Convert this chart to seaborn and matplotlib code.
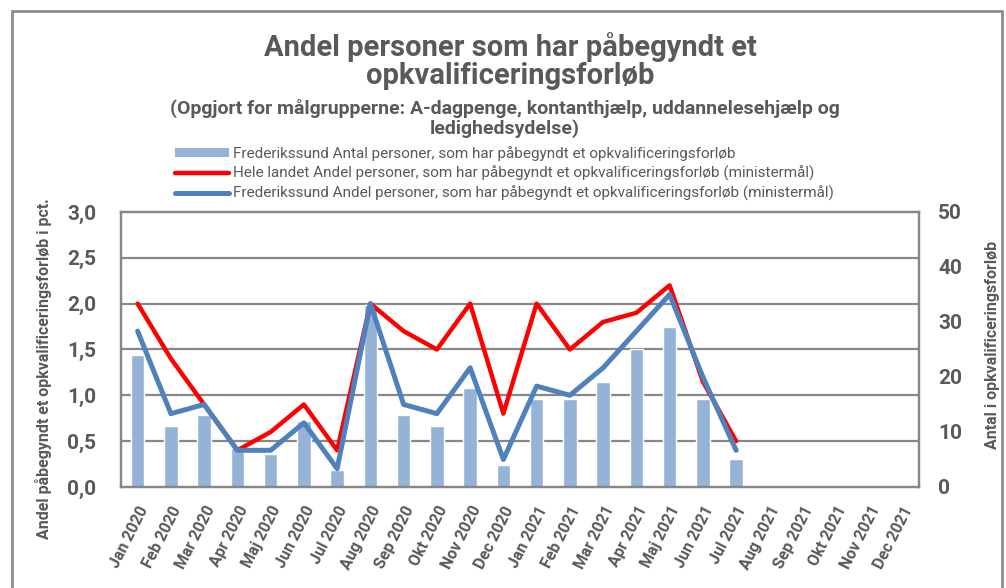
import numpy as np
import pandas as pd
import matplotlib
matplotlib.use("Agg")
import matplotlib.pyplot as plt
import seaborn as sns
from matplotlib.patches import Patch, Rectangle
from matplotlib.lines import Line2D
from matplotlib.ticker import FuncFormatter, MultipleLocator, FixedLocator

# Data
months = ['Jan 2020', 'Feb 2020', 'Mar 2020', 'Apr 2020', 'Maj 2020', 'Jun 2020',
          'Jul 2020', 'Aug 2020', 'Sep 2020', 'Okt 2020', 'Nov 2020', 'Dec 2020',
          'Jan 2021', 'Feb 2021', 'Mar 2021', 'Apr 2021', 'Maj 2021', 'Jun 2021',
          'Jul 2021', 'Aug 2021', 'Sep 2021', 'Okt 2021', 'Nov 2021', 'Dec 2021']
antal_frs = [24, 11, 13, 7, 6, 12, 3, 33, 13, 11, 18, 4, 16, 16, 19, 25, 29, 16, 5]
andel_hele = [2.0, 1.4, 0.9, 0.4, 0.6, 0.9, 0.4, 2.0, 1.7, 1.5, 2.0, 0.8, 2.0, 1.5,
              1.8, 1.9, 2.2, 1.15, 0.5]
andel_frs = [1.7, 0.8, 0.9, 0.4, 0.4, 0.7, 0.2, 2.0, 0.9, 0.8, 1.3, 0.3, 1.1, 1.0,
             1.3, 1.7, 2.1, 1.2, 0.4]

lbl_bar = 'Frederikssund Antal personer, som har påbegyndt et opkvalificeringsforløb'
lbl_red = 'Hele landet Andel personer, som har påbegyndt et opkvalificeringsforløb (ministermål)'
lbl_blue = 'Frederikssund Andel personer, som har påbegyndt et opkvalificeringsforløb (ministermål)'

n = len(antal_frs)
df = pd.DataFrame({'Maaned': months[:n], 'Antal': antal_frs,
                   'Hele': andel_hele, 'Frs': andel_frs, 'pos': np.arange(n)})

sns.set_style('white')
plt.rcParams['font.family'] = ['Roboto', 'DejaVu Sans']

grey = '#595959'
gridc = '#878787'
bar_c = '#95B3D7'
red_c = '#FF0000'
blue_c = '#4F81BD'

fig = plt.figure(figsize=(10.06, 5.88), dpi=100)
axb = fig.add_axes([0.1203, 0.1718, 0.7932, 0.4677])   # bars, right scale
axl = axb.twinx()                                      # lines, left scale

# Bars
sns.barplot(data=df, x='Maaned', y='Antal', order=months, color=bar_c,
            width=0.4, saturation=1, ax=axb)
axb.set_ylim(0, 50)
axb.yaxis.set_major_locator(MultipleLocator(10))
axb.yaxis.set_minor_locator(FixedLocator(np.linspace(0, 50, 7)))
axb.grid(axis='y', which='minor', color=gridc, linewidth=1.6)
axb.grid(axis='y', which='major', visible=False)
axb.set_axisbelow(True)
axb.yaxis.tick_right()
axb.yaxis.set_label_position('right')

# Lines
sns.lineplot(data=df, x='pos', y='Hele', color=red_c, linewidth=3.2, ax=axl)
sns.lineplot(data=df, x='pos', y='Frs', color=blue_c, linewidth=3.6, ax=axl)
axl.set_ylim(0, 3)
axl.yaxis.set_major_locator(MultipleLocator(0.5))
axl.yaxis.set_major_formatter(FuncFormatter(lambda v, p: f'{v:.1f}'.replace('.', ',')))
axl.yaxis.tick_left()
axl.yaxis.set_label_position('left')

axb.set_xlim(-0.5, len(months) - 0.5)
axb.set_xticks(np.arange(len(months)))
axb.set_xticklabels(months, rotation=63, ha='right', rotation_mode='anchor',
                    fontsize=11.5, fontweight='bold', color=grey)
axb.tick_params(axis='x', length=0, pad=12)
axb.tick_params(axis='y', which='both', length=0, pad=14, labelsize=15, labelcolor=grey)
axl.tick_params(axis='y', length=0, pad=18, labelsize=15, labelcolor=grey)
for t in axl.get_yticklabels() + axb.get_yticklabels():
    t.set_fontweight('bold')

axb.set_xlabel('')
axl.set_ylabel('Andel påbegyndt et opkvalificeringsforløb i pct.', fontsize=11.5,
               fontweight='bold', color=grey)
axl.yaxis.set_label_coords(-0.086, 0.43)
axb.set_ylabel('Antal i opkvalificeringsforløb', fontsize=11.5,
               fontweight='bold', color=grey)
axb.yaxis.set_label_coords(1.083, 0.516)

for a in (axb, axl):
    for s in a.spines.values():
        s.set_color(gridc)
        s.set_linewidth(1.6)

# Titles
fig.text(0.507, 0.920, 'Andel personer som har påbegyndt et', ha='center', va='center',
         fontsize=21, fontweight='bold', color=grey)
fig.text(0.507, 0.871, 'opkvalificeringsforløb', ha='center', va='center',
         fontsize=21, fontweight='bold', color=grey)
fig.text(0.502, 0.816, '(Opgjort for målgrupperne: A-dagpenge, kontanthjælp, uddannelesehjælp og',
         ha='center', va='center', fontsize=14, fontweight='bold', color=grey)
fig.text(0.502, 0.781, 'ledighedsydelse)', ha='center', va='center',
         fontsize=14, fontweight='bold', color=grey)

# Legend
handles = [Patch(facecolor=bar_c, edgecolor='none'),
           Line2D([], [], color=red_c, linewidth=3.2),
           Line2D([], [], color=blue_c, linewidth=3.6)]
fig.legend(handles, [lbl_bar, lbl_red, lbl_blue], loc='upper left',
           bbox_to_anchor=(0.174, 0.752), frameon=False, fontsize=11,
           labelcolor=grey, handlelength=3.5, handleheight=0.5,
           handletextpad=0.3, labelspacing=0.32, borderpad=0, borderaxespad=0)

# Outer frame
fig.patches.append(Rectangle((0.012, -0.1), 0.984, 1.081, transform=fig.transFigure,
                             fill=False, edgecolor='#8C8C8C', linewidth=2))

fig.savefig('out.png', dpi=100)
